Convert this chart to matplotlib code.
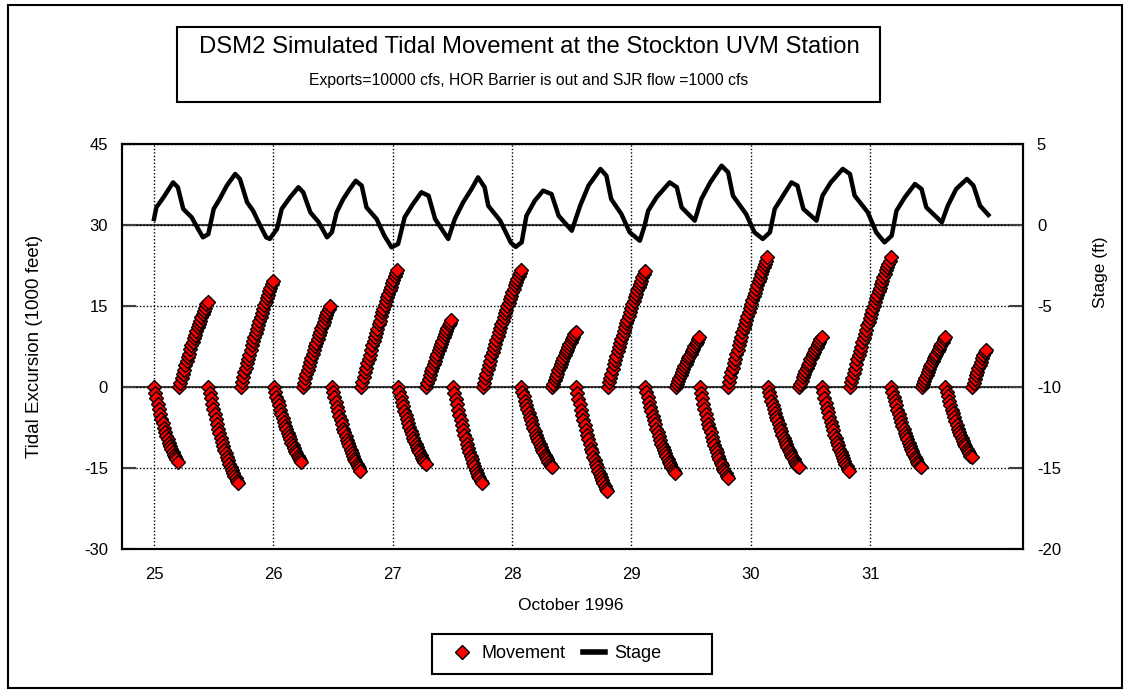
import numpy as np
import matplotlib
matplotlib.use("Agg")
import matplotlib.pyplot as plt
from matplotlib.patches import Rectangle
from matplotlib.lines import Line2D

plt.rcParams['font.family'] = ['Liberation Sans', 'DejaVu Sans']
plt.rcParams['axes.unicode_minus'] = False

# model output interval: 15 minutes, in days
STEP = 1.0 / 96

# Stage at the Stockton UVM station (ft)
stage_day = [25.00, 25.02, 25.08, 25.16, 25.20, 25.245, 25.315, 25.37, 25.41, 25.455,
             25.50, 25.55, 25.61, 25.68, 25.72, 25.78, 25.83, 25.89, 25.94, 25.97,
             26.03, 26.07, 26.14, 26.21, 26.25, 26.31, 26.38, 26.45, 26.49, 26.53,
             26.585, 26.64, 26.69, 26.74, 26.78, 26.865, 26.93, 26.99, 27.045, 27.10,
             27.17, 27.24, 27.30, 27.355, 27.465, 27.52, 27.59, 27.66, 27.715, 27.77,
             27.80, 27.90, 27.99, 28.03, 28.08, 28.12, 28.19, 28.26, 28.33, 28.39,
             28.50, 28.57, 28.64, 28.74, 28.79, 28.83, 28.915, 28.985, 29.07, 29.11,
             29.14, 29.21, 29.32, 29.38, 29.42, 29.53, 29.585, 29.66, 29.755, 29.81,
             29.85, 29.96, 30.03, 30.10, 30.16, 30.20, 30.27, 30.34, 30.39, 30.44,
             30.55, 30.60, 30.67, 30.77, 30.83, 30.87, 30.98, 31.05, 31.12, 31.18,
             31.22, 31.29, 31.375, 31.43, 31.47, 31.60, 31.65, 31.72, 31.81, 31.865,
             31.92, 31.99]
stage_ft = [0.37, 1.09, 1.71, 2.63, 2.33, 0.99, 0.48, -0.25, -0.76, -0.56,
            0.99, 1.60, 2.43, 3.15, 2.84, 1.40, 0.88, -0.04, -0.76, -0.86,
            -0.25, 0.99, 1.71, 2.33, 2.02, 0.78, 0.17, -0.76, -0.45, 0.78,
            1.60, 2.22, 2.73, 2.43, 1.09, 0.37, -0.66, -1.38, -1.17, 0.48,
            1.30, 2.02, 1.81, 0.37, -0.86, 0.37, 1.40, 2.22, 2.94, 2.33,
            1.19, 0.27, -1.10, -1.35, -1.07, 0.57, 1.50, 2.12, 1.91, 0.57,
            -0.35, 1.19, 2.43, 3.46, 3.04, 1.60, 0.68, -0.45, -0.97, -0.04,
            0.88, 1.71, 2.63, 2.33, 1.09, 0.27, 1.60, 2.63, 3.66, 3.25,
            1.81, 0.68, -0.45, -0.86, -0.45, 0.99, 1.81, 2.63, 2.43, 0.99,
            0.27, 1.81, 2.63, 3.46, 3.15, 1.81, 0.78, -0.45, -1.07, -0.66,
            0.88, 1.71, 2.53, 2.22, 1.09, 0.17, 1.19, 2.22, 2.84, 2.43,
            1.19, 0.62]

# Tidal excursion (1000 ft); every segment restarts from 0 at slack water
ebb_start = [25.00, 25.455, 26.005, 26.49, 27.046, 27.507, 28.075,
             28.535, 29.115, 29.57, 30.14, 30.595, 31.175, 31.63]
ebb_values = [
    [0, -1.1, -2.1, -3.1, -4.1, -5.0, -5.9, -6.7, -7.5, -8.3, -9.0, -9.7, -10.3, -10.9, -11.5,
     -12.0, -12.5, -13.0, -13.4, -13.8],
    [0, -1.1, -2.1, -3.1, -4.1, -5.0, -5.9, -6.8, -7.7, -8.5, -9.4, -10.1, -10.9, -11.6, -12.3,
     -13.0, -13.6, -14.2, -14.8, -15.4, -15.9, -16.4, -16.9, -17.4, -17.8],
    [0, -0.9, -1.8, -2.6, -3.4, -4.2, -5.0, -5.8, -6.5, -7.2, -7.8, -8.5, -9.1, -9.7, -10.3,
     -10.8, -11.3, -11.8, -12.3, -12.7, -13.1, -13.5, -13.9],
    [0, -1.0, -1.9, -2.8, -3.7, -4.5, -5.4, -6.2, -6.9, -7.7, -8.4, -9.1, -9.8, -10.4, -11.0,
     -11.6, -12.2, -12.7, -13.3, -13.7, -14.2, -14.6, -15.0, -15.5],
    [0, -0.9, -1.8, -2.7, -3.5, -4.4, -5.2, -5.9, -6.7, -7.4, -8.1, -8.7, -9.4, -10.0, -10.6,
     -11.1, -11.6, -12.1, -12.6, -13.1, -13.5, -13.9, -14.3],
    [0, -1.1, -2.2, -3.2, -4.2, -5.2, -6.2, -7.1, -8.0, -8.9, -9.7, -10.5, -11.3, -12.0, -12.7,
     -13.4, -14.1, -14.7, -15.3, -15.9, -16.4, -16.9, -17.4, -17.8],
    [0, -0.9, -1.7, -2.5, -3.3, -4.1, -4.8, -5.5, -6.2, -6.9, -7.6, -8.2, -8.8, -9.4, -10.0,
     -10.5, -11.1, -11.6, -12.1, -12.5, -13.0, -13.4, -13.8, -14.2, -14.6, -14.9],
    [0, -1.1, -2.2, -3.2, -4.2, -5.2, -6.2, -7.1, -8.0, -8.9, -9.7, -10.6, -11.4, -12.1, -12.9,
     -13.6, -14.3, -14.9, -15.6, -16.2, -16.7, -17.3, -17.8, -18.3, -18.8, -19.2],
    [0, -1.0, -1.9, -2.8, -3.7, -4.5, -5.3, -6.2, -6.9, -7.7, -8.4, -9.1, -9.8, -10.5, -11.1,
     -11.7, -12.3, -12.8, -13.4, -13.9, -14.3, -14.8, -15.2, -15.6, -16.0],
    [0, -1.1, -2.1, -3.1, -4.0, -5.0, -5.9, -6.8, -7.6, -8.4, -9.2, -10.0, -10.7, -11.4, -12.1,
     -12.8, -13.4, -14.0, -14.5, -15.1, -15.6, -16.0, -16.5, -16.9],
    [0, -0.9, -1.7, -2.5, -3.3, -4.1, -4.8, -5.5, -6.2, -6.9, -7.6, -8.2, -8.8, -9.4, -10.0,
     -10.5, -11.1, -11.6, -12.1, -12.5, -13.0, -13.4, -13.8, -14.2, -14.6, -14.9],
    [0, -1.0, -2.0, -2.9, -3.8, -4.7, -5.6, -6.4, -7.2, -8.0, -8.8, -9.5, -10.2, -10.8, -11.5,
     -12.1, -12.6, -13.2, -13.7, -14.2, -14.7, -15.1, -15.5],
    [0, -0.9, -1.8, -2.6, -3.4, -4.2, -5.0, -5.7, -6.5, -7.2, -7.8, -8.5, -9.1, -9.7, -10.3,
     -10.9, -11.4, -11.9, -12.4, -12.9, -13.4, -13.8, -14.2, -14.6, -14.9],
    [0, -0.9, -1.7, -2.6, -3.4, -4.2, -4.9, -5.6, -6.3, -7.0, -7.7, -8.3, -8.9, -9.4, -10.0,
     -10.5, -11.0, -11.4, -11.9, -12.3, -12.7, -13.0],
]
flood_start = [25.21, 25.726, 26.245, 26.735, 27.28, 27.753, 28.335,
               28.80, 29.37, 29.805, 30.405, 30.83, 31.43, 31.855]
flood_values = [
    [0, 0.8, 1.6, 2.4, 3.2, 4.0, 4.8, 5.5, 6.2, 7.0, 7.7, 8.4, 9.1, 9.7, 10.4, 11.1, 11.7,
     12.3, 12.9, 13.5, 14.1, 14.7, 15.3, 15.8],
    [0, 0.9, 1.8, 2.7, 3.5, 4.4, 5.2, 6.0, 6.9, 7.7, 8.5, 9.3, 10.0, 10.8, 11.5, 12.3, 13.0,
     13.7, 14.4, 15.1, 15.8, 16.4, 17.1, 17.7, 18.4, 19.0, 19.6],
    [0, 0.8, 1.6, 2.4, 3.2, 3.9, 4.7, 5.4, 6.1, 6.9, 7.6, 8.2, 8.9, 9.6, 10.2, 10.9, 11.5,
     12.1, 12.7, 13.3, 13.9, 14.4, 15.0],
    [0, 0.9, 1.8, 2.7, 3.5, 4.4, 5.2, 6.0, 6.9, 7.7, 8.5, 9.3, 10.0, 10.8, 11.6, 12.3, 13.1,
     13.8, 14.5, 15.2, 15.9, 16.6, 17.3, 17.9, 18.6, 19.2, 19.9, 20.5, 21.1, 21.7],
    [0, 0.7, 1.5, 2.2, 2.9, 3.6, 4.2, 4.9, 5.6, 6.2, 6.8, 7.4, 8.0, 8.6, 9.2, 9.8, 10.3,
     10.9, 11.4, 11.9, 12.4],
    [0, 0.8, 1.7, 2.5, 3.3, 4.1, 4.9, 5.7, 6.4, 7.2, 7.9, 8.7, 9.4, 10.2, 10.9, 11.6, 12.3,
     13.0, 13.7, 14.3, 15.0, 15.6, 16.3, 16.9, 17.6, 18.2, 18.8, 19.4, 20.0, 20.6, 21.1, 21.7],
    [0, 0.6, 1.3, 1.9, 2.5, 3.1, 3.7, 4.2, 4.8, 5.3, 5.9, 6.4, 6.9, 7.4, 7.9, 8.4, 8.9,
     9.3, 9.8, 10.2],
    [0, 0.9, 1.7, 2.5, 3.4, 4.2, 5.0, 5.8, 6.6, 7.4, 8.1, 8.9, 9.6, 10.4, 11.1, 11.8, 12.5,
     13.2, 13.9, 14.6, 15.3, 16.0, 16.6, 17.3, 17.9, 18.5, 19.1, 19.7, 20.3, 20.9, 21.5],
    [0, 0.6, 1.1, 1.7, 2.2, 2.8, 3.3, 3.8, 4.3, 4.8, 5.3, 5.8, 6.2, 6.7, 7.1, 7.6, 8.0,
     8.4, 8.8, 9.2],
    [0, 0.9, 1.8, 2.7, 3.5, 4.4, 5.2, 6.1, 6.9, 7.7, 8.5, 9.3, 10.1, 10.9, 11.7, 12.4, 13.2,
     13.9, 14.7, 15.4, 16.1, 16.8, 17.5, 18.2, 18.9, 19.6, 20.2, 20.9, 21.5, 22.2, 22.8,
     23.4, 24.0],
    [0, 0.6, 1.2, 1.8, 2.4, 2.9, 3.5, 4.0, 4.5, 5.1, 5.6, 6.1, 6.5, 7.0, 7.5, 7.9, 8.4,
     8.8, 9.2],
    [0, 0.9, 1.7, 2.6, 3.4, 4.3, 5.1, 5.9, 6.7, 7.5, 8.3, 9.1, 9.8, 10.6, 11.4, 12.1, 12.8,
     13.6, 14.3, 15.0, 15.7, 16.4, 17.1, 17.7, 18.4, 19.1, 19.7, 20.4, 21.0, 21.6, 22.2,
     22.8, 23.4, 24.0],
    [0, 0.6, 1.1, 1.7, 2.2, 2.8, 3.3, 3.8, 4.3, 4.8, 5.3, 5.8, 6.2, 6.7, 7.1, 7.6, 8.0,
     8.4, 8.8, 9.2],
    [0, 0.7, 1.5, 2.2, 2.8, 3.5, 4.1, 4.7, 5.3, 5.9, 6.4, 6.9],
]

x_ticks = [25, 26, 27, 28, 29, 30, 31]
left_ticks = [-30, -15, 0, 15, 30, 45]
right_ticks = [-20, -15, -10, -5, 0, 5]

W, H = 1129, 694
fig = plt.figure(figsize=(W / 100, H / 100), dpi=100)
fig.patch.set_facecolor('white')

def fx(px):
    return px / W

def fy(py):
    return 1 - py / H

# plot area
ax = fig.add_axes([fx(122), fy(549), fx(1023) - fx(122), fy(144) - fy(549)])
ax.set_xlim(24.732, 32.28)
ax.set_ylim(-30, 45)
ax.set_xticks(x_ticks)
ax.set_yticks(left_ticks)
ax.grid(True, color='black', linestyle=(0, (1, 1.5)), linewidth=1.0)
ax.axhline(0, color='#404040', lw=1.5, zorder=1.5)
ax.axhline(30, color='#404040', lw=1.5, zorder=1.5)
ax.tick_params(axis='y', direction='in', length=10, width=1.5, color='#404040',
               labelsize=12, pad=10)
ax.tick_params(axis='x', length=0, labelsize=12, pad=13)
for sp in ax.spines.values():
    sp.set_linewidth(1.5)
    sp.set_color('black')

mark = dict(linestyle='none', marker='D', markersize=7.5, markerfacecolor='#ff0000',
            markeredgecolor='black', markeredgewidth=1.0, zorder=3)
for start, vals in zip(ebb_start + flood_start, ebb_values + flood_values):
    t = start + np.arange(len(vals)) * STEP
    ax.plot(t, vals, **mark)

ax2 = ax.twinx()
ax2.set_ylim(-20, 5)
ax2.set_yticks(right_ticks)
ax2.tick_params(axis='y', direction='in', length=10, width=1.5, color='#404040',
                labelsize=12, pad=10)
for sp in ax2.spines.values():
    sp.set_linewidth(1.5)
ax2.plot(stage_day, stage_ft, color='black', lw=3.2)

# axis titles
fig.text(fx(35), fy(346), 'Tidal Excursion (1000 feet)', rotation=90,
         ha='center', va='center', fontsize=13.5)
fig.text(fx(1100), fy(272), 'Stage (ft)', rotation=90,
         ha='center', va='center', fontsize=12.5)
fig.text(fx(571), fy(605), 'October 1996', ha='center', va='center', fontsize=12.5)

# title box
fig.patches.append(Rectangle((fx(177), fy(102)), fx(880) - fx(177), fy(27) - fy(102),
                             transform=fig.transFigure, fill=False, lw=1.5,
                             edgecolor='black'))
fig.text(fx(529), fy(47), 'DSM2 Simulated Tidal Movement at the Stockton UVM Station',
         ha='center', va='center', fontsize=17.2)
fig.text(fx(529), fy(81), 'Exports=10000 cfs, HOR Barrier is out and SJR flow =1000 cfs',
         ha='center', va='center', fontsize=11.3)

# legend box
fig.patches.append(Rectangle((fx(432), fy(674)), fx(712) - fx(432), fy(634) - fy(674),
                             transform=fig.transFigure, fill=False, lw=1.5,
                             edgecolor='black'))
handles = [Line2D([], [], linestyle='none', marker='D', markersize=7,
                  markerfacecolor='#ff0000', markeredgecolor='black', markeredgewidth=1.0),
           Line2D([], [], color='black', lw=4)]
fig.legend(handles, ['Movement', 'Stage'], loc='center', bbox_to_anchor=(fx(556), fy(654)),
           ncol=2, frameon=False, fontsize=13, handlelength=1.2, columnspacing=1.0,
           handletextpad=0.5)

# chart border
fig.patches.append(Rectangle((fx(8), fy(688)), fx(1122) - fx(8), fy(5) - fy(688),
                             transform=fig.transFigure, fill=False, lw=1.5,
                             edgecolor='black'))

fig.savefig('out.png', dpi=100, facecolor='white')
